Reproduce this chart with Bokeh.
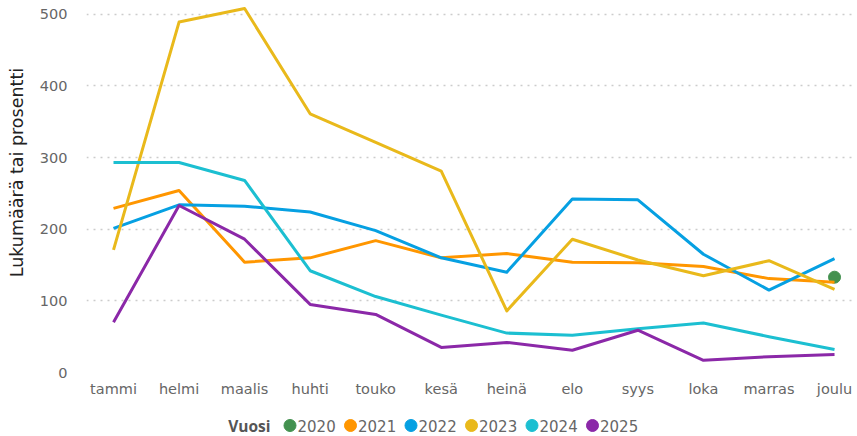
from bokeh.plotting import figure
from bokeh.models import Range1d, FixedTicker, ColumnDataSource
from bokeh.layouts import column
from bokeh.core.properties import value
from bokeh.embed import file_html
from bokeh.resources import INLINE

months = ["tammi", "helmi", "maalis", "huhti", "touko", "kesä", "heinä", "elo", "syys", "loka", "marras", "joulu"]
nan = float("nan")
years = ["2020", "2021", "2022", "2023", "2024", "2025"]
v2020 = [nan, nan, nan, nan, nan, nan, nan, nan, nan, nan, nan, 133]
v2021 = [229, 254, 154, 160, 184, 160, 166, 154, 153, 148, 131, 126]
v2022 = [201, 234, 232, 224, 198, 160, 140, 242, 241, 165, 115, 159]
v2023 = [171, 489, 508, 361, 321, 281, 86, 186, 157, 135, 156, 116]
v2024 = [293, 293, 268, 142, 106, 80, 55, 52, 61, 69, 50, 32]
v2025 = [70, 233, 186, 95, 81, 35, 42, 31, 59, 17, 22, 25]
series = [v2020, v2021, v2022, v2023, v2024, v2025]
colors = ["#43914f", "#ff9600", "#06a0e2", "#e9b91b", "#1cbfd1", "#8b28a8"]
yticks = [0, 100, 200, 300, 400, 500]
legend_title = "Vuosi"
y_title = "Lukumäärä tai prosentti"

FONT = "DejaVu Sans"
x = list(range(len(months)))
W = 855
LEFT = 86

p = figure(width=W, height=414, output_backend="svg", toolbar_location=None,
           x_range=Range1d(-0.412, 11.32), y_range=Range1d(0, 519.1),
           min_border_left=LEFT, min_border_right=0, min_border_top=0, min_border_bottom=42)
p.outline_line_color = None

for yr, vals, col in zip(years, series, colors):
    src = ColumnDataSource(dict(x=x, y=vals))
    if yr == "2020":
        p.scatter("x", "y", source=src, size=12, color=col, line_color=col)
    else:
        p.line("x", "y", source=src, line_width=3, line_color=col, line_join="round")

p.xaxis.ticker = FixedTicker(ticks=x)
p.xaxis.major_label_overrides = {i: m for i, m in enumerate(months)}
p.yaxis.ticker = FixedTicker(ticks=yticks)
for ax in (p.xaxis[0], p.yaxis[0]):
    ax.axis_line_color = None
    ax.major_tick_line_color = None
    ax.minor_tick_line_color = None
    ax.major_label_text_font = FONT
    ax.major_label_text_font_size = "14.5px"
    ax.major_label_text_color = "#666666"
p.xaxis.major_label_standoff = 2
p.yaxis.major_label_standoff = 13
p.yaxis.axis_label = "\u00a0" * 5 + y_title
p.yaxis.axis_label_text_font = FONT
p.yaxis.axis_label_text_font_size = "17.5px"
p.yaxis.axis_label_text_font_style = "normal"
p.yaxis.axis_label_text_color = "#222222"
p.yaxis.axis_label_standoff = 10

p.xgrid.grid_line_color = None
p.ygrid.grid_line_color = "#cccccc"
p.ygrid.grid_line_dash = "2 5"
p.ygrid.grid_line_width = 1.5

# legend strip (x in page pixels)
leg = figure(width=W, height=22, output_backend="svg", toolbar_location=None,
             x_range=Range1d(LEFT, W), y_range=Range1d(0, 1),
             x_axis_type=None, y_axis_type=None,
             min_border_left=LEFT, min_border_right=0, min_border_top=0, min_border_bottom=0)
leg.outline_line_color = None
leg.xgrid.grid_line_color = None
leg.ygrid.grid_line_color = None

start, step = 289.5, 60.5
cx = [start + i * step for i in range(len(years))]
leg.scatter(cx, [0.5] * len(years), size=12, fill_color=colors, line_color=colors)
leg.text([c + 7.5 for c in cx], [0.5] * len(years), text=years,
         text_font=value(FONT), text_font_size=value("15px"),
         text_color="#666666", text_baseline="middle", text_align="left")
leg.text([start - 19.5], [0.5], text=[legend_title],
         text_font=value("Open Sans"), text_font_size=value("15.5px"), text_font_style="bold",
         text_color="#555555", text_baseline="middle", text_align="right")

open("out.html", "w").write(file_html(column(p, leg), INLINE))
